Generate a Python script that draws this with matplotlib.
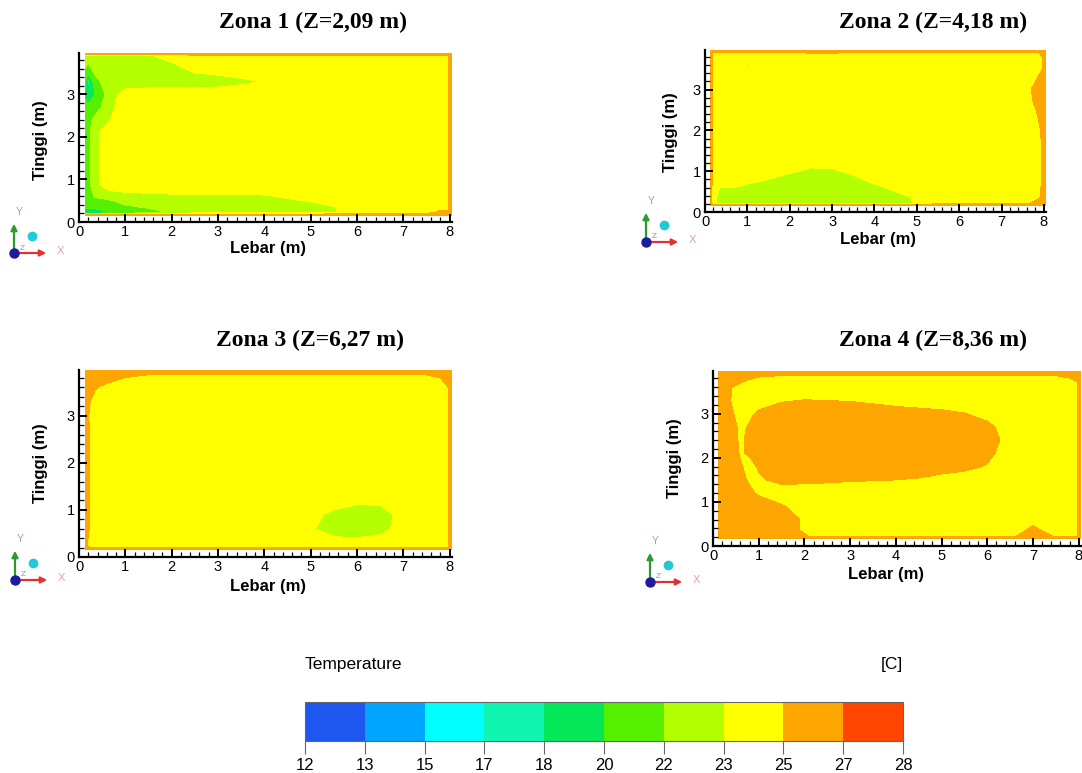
import matplotlib
matplotlib.use('Agg')
import numpy as np
import matplotlib.pyplot as plt
from matplotlib.ticker import MultipleLocator
from matplotlib.patches import FancyArrowPatch
from matplotlib.lines import Line2D

# temperature bands [C]
levels = [12, 13, 15, 17, 18, 20, 22, 23, 25, 27, 28]
colors = ['#1e56f0', '#00a5ff', '#00ffff', '#10f5b0', '#05e85a',
          '#55f000', '#b4ff00', '#ffff00', '#ffa500', '#ff4500']

# sample points of the section (m)
lebar = [0.13, 0.19, 0.35, 0.6, 0.8, 1.0, 1.5, 2.0, 2.5, 3.0, 3.5, 4.0,
         4.5, 5.0, 5.5, 6.0, 6.5, 7.0, 7.5, 7.8, 7.97, 8.03]
tinggi = [3.96, 3.9, 3.6, 3.3, 3.0, 2.7, 2.4, 2.1, 1.8, 1.5, 1.2, 0.9,
          0.6, 0.35, 0.22, 0.16]   # top -> bottom

zona1 = [
    [26.9, 26.9, 26.9, 26.9, 26.9, 26.9, 26.9, 26.9, 26.9, 26.9, 26.9, 26.9, 26.9, 26.9, 26.9, 26.9, 26.9, 26.9, 26.9, 26.9, 26.9, 26.9],
    [22.5, 22.4, 22.5, 22.6, 22.6, 22.7, 22.9, 23.3, 24.0, 24.2, 24.3, 24.4, 24.5, 24.6, 24.7, 24.8, 24.8, 24.7, 24.6, 24.6, 24.7, 26.9],
    [22.0, 21.6, 22.4, 22.6, 22.6, 22.6, 22.6, 22.7, 23.2, 23.3, 23.6, 23.9, 24.0, 24.0, 24.0, 24.0, 24.0, 24.0, 24.0, 24.1, 24.5, 26.9],
    [21.0, 16.8, 21.6, 22.5, 22.6, 22.6, 22.6, 22.6, 22.6, 22.7, 22.8, 23.05, 23.6, 24.0, 24.0, 24.0, 24.0, 24.0, 24.0, 24.1, 24.5, 26.9],
    [19.5, 18.2, 20.0, 22.4, 22.9, 23.3, 23.4, 23.4, 23.4, 23.4, 23.6, 23.9, 24.0, 24.0, 24.0, 24.0, 24.0, 24.0, 24.0, 24.1, 24.5, 26.9],
    [20.8, 20.6, 21.5, 22.5, 23.1, 23.4, 23.8, 24.0, 24.0, 24.0, 24.0, 24.0, 24.0, 24.0, 24.0, 24.0, 24.0, 24.0, 24.0, 24.1, 24.5, 26.9],
    [21.4, 21.6, 22.3, 22.8, 23.3, 23.6, 23.9, 24.0, 24.0, 24.0, 24.0, 24.0, 24.0, 24.0, 24.0, 24.0, 24.0, 24.0, 24.0, 24.1, 24.5, 26.9],
    [21.5, 21.7, 22.7, 23.5, 23.8, 23.9, 24.0, 24.0, 24.0, 24.0, 24.0, 24.0, 24.0, 24.0, 24.0, 24.0, 24.0, 24.0, 24.0, 24.1, 24.5, 26.9],
    [21.5, 21.7, 22.7, 23.6, 23.8, 23.9, 24.0, 24.0, 24.0, 24.0, 24.0, 24.0, 24.0, 24.0, 24.0, 24.0, 24.0, 24.0, 24.0, 24.1, 24.5, 26.9],
    [21.5, 21.7, 22.7, 23.6, 23.8, 23.9, 24.0, 24.0, 24.0, 24.0, 24.0, 24.0, 24.0, 24.0, 24.0, 24.0, 24.0, 24.0, 24.0, 24.1, 24.5, 26.9],
    [21.5, 21.7, 22.7, 23.6, 23.8, 23.9, 24.0, 24.0, 24.0, 24.0, 24.0, 24.0, 24.0, 24.0, 24.0, 24.0, 24.0, 24.0, 24.0, 24.1, 24.5, 26.9],
    [21.5, 21.7, 22.7, 23.6, 23.8, 23.8, 23.9, 23.9, 23.9, 23.8, 23.8, 23.8, 23.9, 24.0, 24.0, 24.0, 24.0, 24.0, 24.0, 24.1, 24.5, 26.9],
    [21.3, 21.5, 22.1, 22.3, 22.5, 22.6, 22.7, 22.8, 22.85, 22.85, 22.85, 22.9, 23.1, 23.3, 23.7, 24.0, 24.0, 24.0, 24.0, 24.1, 24.5, 26.9],
    [20.5, 20.8, 21.0, 21.2, 21.5, 21.85, 22.1, 22.3, 22.4, 22.4, 22.5, 22.5, 22.6, 22.7, 22.95, 23.6, 24.0, 24.1, 24.2, 24.4, 24.5, 26.9],
    [18.5, 17.8, 17.9, 19.5, 20.3, 20.8, 21.6, 22.1, 22.4, 22.5, 22.5, 22.5, 22.6, 22.7, 22.9, 23.5, 24.0, 24.2, 24.4, 25.4, 25.2, 26.9],
    [26.9, 26.9, 26.9, 26.9, 26.9, 26.9, 26.9, 26.9, 26.9, 26.9, 26.9, 26.9, 26.9, 26.9, 26.9, 26.9, 26.9, 26.9, 26.9, 26.9, 26.9, 26.9],
]

zona2 = [
    [26.9, 26.9, 26.9, 26.9, 26.9, 26.9, 26.9, 26.9, 26.9, 26.9, 26.9, 26.9, 26.9, 26.9, 26.9, 26.9, 26.9, 26.9, 26.9, 26.9, 26.9, 26.9],
    [26.9, 24.6, 24.6, 24.6, 24.6, 24.6, 24.6, 24.7, 25.1, 25.1, 24.8, 24.6, 24.6, 24.6, 24.6, 24.6, 24.6, 24.6, 24.6, 24.7, 25.2, 26.9],
    [26.9, 24.3, 24.1, 24.0, 24.0, 22.8, 24.0, 24.0, 24.0, 24.0, 24.0, 24.0, 24.0, 24.0, 24.0, 24.0, 24.0, 24.0, 24.1, 24.3, 24.8, 26.9],
    [26.9, 24.2, 24.0, 24.0, 24.0, 24.0, 24.0, 24.0, 24.0, 24.0, 24.0, 24.0, 24.0, 24.0, 24.0, 24.0, 24.0, 24.0, 24.1, 24.8, 25.5, 26.9],
    [26.9, 24.2, 24.0, 24.0, 24.0, 24.0, 24.0, 24.0, 24.0, 24.0, 24.0, 24.0, 24.0, 24.0, 24.0, 24.0, 24.0, 24.0, 24.2, 25.4, 26.0, 26.9],
    [26.9, 24.2, 24.0, 24.0, 24.0, 24.0, 24.0, 24.0, 24.0, 24.0, 24.0, 24.0, 24.0, 24.0, 24.0, 24.0, 24.0, 24.0, 24.1, 25.2, 25.9, 26.9],
    [26.9, 24.2, 24.0, 24.0, 24.0, 24.0, 24.0, 24.0, 24.0, 24.0, 24.0, 24.0, 24.0, 24.0, 24.0, 24.0, 24.0, 24.0, 24.1, 24.8, 25.6, 26.9],
    [26.9, 24.2, 24.0, 24.0, 24.0, 24.0, 24.0, 24.0, 24.0, 24.0, 24.0, 24.0, 24.0, 24.0, 24.0, 24.0, 24.0, 24.0, 24.0, 24.5, 25.3, 26.9],
    [26.9, 24.2, 24.0, 24.0, 24.0, 24.0, 24.0, 24.0, 24.0, 24.0, 24.0, 24.0, 24.0, 24.0, 24.0, 24.0, 24.0, 24.0, 24.0, 24.3, 25.2, 26.9],
    [26.9, 24.2, 24.0, 24.0, 24.0, 24.0, 24.0, 24.0, 24.0, 24.0, 24.0, 24.0, 24.0, 24.0, 24.0, 24.0, 24.0, 24.0, 24.0, 24.3, 25.2, 26.9],
    [26.9, 24.1, 24.0, 24.0, 24.0, 24.0, 24.0, 23.6, 23.2, 23.2, 23.7, 24.0, 24.0, 24.0, 24.0, 24.0, 24.0, 24.0, 24.0, 24.3, 25.2, 26.9],
    [26.9, 24.1, 23.8, 23.7, 23.6, 23.5, 23.2, 22.9, 22.7, 22.75, 23.0, 23.5, 23.8, 24.0, 24.0, 24.0, 24.0, 24.0, 24.0, 24.3, 25.2, 26.9],
    [26.9, 23.6, 23.0, 23.0, 22.95, 22.8, 22.6, 22.5, 22.4, 22.4, 22.6, 22.8, 23.2, 23.6, 24.0, 24.0, 24.0, 24.0, 24.0, 24.3, 25.2, 26.9],
    [26.9, 23.5, 22.5, 22.4, 22.4, 22.4, 22.4, 22.4, 22.4, 22.4, 22.4, 22.5, 22.7, 23.1, 23.8, 24.0, 24.0, 24.0, 24.0, 24.4, 25.3, 26.9],
    [26.9, 23.4, 22.6, 22.6, 22.6, 22.6, 22.6, 22.6, 22.6, 22.6, 22.6, 22.6, 22.6, 23.1, 23.9, 24.1, 24.1, 24.2, 24.3, 25.5, 26.0, 26.9],
    [26.9, 26.9, 26.9, 26.9, 26.9, 26.9, 26.9, 26.9, 26.9, 26.9, 26.9, 26.9, 26.9, 26.9, 26.9, 26.9, 26.9, 26.9, 26.9, 26.9, 26.9, 26.9],
]

zona3 = [
    [26.9, 26.9, 26.9, 26.9, 26.9, 26.9, 26.9, 26.9, 26.9, 26.9, 26.9, 26.9, 26.9, 26.9, 26.9, 26.9, 26.9, 26.9, 26.9, 26.9, 26.9, 26.9],
    [26.9, 26.8, 26.5, 26.0, 25.6, 25.3, 25.1, 25.1, 25.1, 25.1, 25.1, 25.1, 25.1, 25.1, 25.1, 25.1, 25.1, 25.1, 25.1, 25.3, 25.6, 26.9],
    [26.9, 26.3, 25.1, 24.6, 24.4, 24.3, 24.1, 24.0, 24.0, 24.0, 24.0, 24.0, 24.0, 24.0, 24.0, 24.0, 24.0, 24.0, 24.1, 24.4, 25.0, 26.9],
    [26.9, 25.2, 24.6, 24.2, 24.1, 24.0, 24.0, 24.0, 24.0, 24.0, 24.0, 24.0, 24.0, 24.0, 24.0, 24.0, 24.0, 24.0, 24.0, 24.1, 24.6, 26.9],
    [26.9, 25.1, 24.3, 24.0, 24.0, 24.0, 24.0, 24.0, 24.0, 24.0, 24.0, 24.0, 24.0, 24.0, 24.0, 24.0, 24.0, 24.0, 24.0, 24.1, 24.5, 26.9],
    [26.9, 25.2, 24.2, 24.0, 24.0, 24.0, 24.0, 24.0, 24.0, 24.0, 24.0, 24.0, 24.0, 24.0, 24.0, 24.0, 24.0, 24.0, 24.0, 24.1, 24.5, 26.9],
    [26.9, 25.2, 24.2, 24.0, 24.0, 24.0, 24.0, 24.0, 24.0, 24.0, 24.0, 24.0, 24.0, 24.0, 24.0, 24.0, 24.0, 24.0, 24.0, 24.1, 24.5, 26.9],
    [26.9, 25.2, 24.2, 24.0, 24.0, 24.0, 24.0, 24.0, 24.0, 24.0, 24.0, 24.0, 24.0, 24.0, 24.0, 24.0, 24.0, 24.0, 24.0, 24.1, 24.5, 26.9],
    [26.9, 25.2, 24.2, 24.0, 24.0, 24.0, 24.0, 24.0, 24.0, 24.0, 24.0, 24.0, 24.0, 24.0, 24.0, 24.0, 24.0, 24.0, 24.0, 24.1, 24.5, 26.9],
    [26.9, 25.2, 24.2, 24.0, 24.0, 24.0, 24.0, 24.0, 24.0, 24.0, 24.0, 24.0, 24.0, 24.0, 24.0, 24.0, 24.0, 24.0, 24.0, 24.1, 24.5, 26.9],
    [26.9, 25.2, 24.2, 24.0, 24.0, 24.0, 24.0, 24.0, 24.0, 24.0, 24.0, 24.0, 24.0, 24.0, 23.8, 23.4, 23.3, 23.7, 24.0, 24.1, 24.5, 26.9],
    [26.9, 25.2, 24.2, 24.0, 24.0, 24.0, 24.0, 24.0, 24.0, 24.0, 24.0, 24.0, 24.0, 23.5, 22.6, 22.1, 22.4, 23.5, 24.0, 24.1, 24.5, 26.9],
    [26.9, 25.2, 24.2, 24.0, 24.0, 24.0, 24.0, 24.0, 24.0, 24.0, 24.0, 24.0, 24.0, 23.2, 22.2, 22.0, 22.5, 23.6, 24.0, 24.1, 24.5, 26.9],
    [26.9, 25.0, 24.2, 24.0, 24.0, 24.0, 24.0, 24.0, 24.0, 24.0, 24.0, 24.0, 24.0, 23.8, 23.4, 23.3, 23.5, 23.9, 24.0, 24.1, 24.5, 26.9],
    [26.9, 24.8, 24.4, 24.3, 24.2, 24.2, 24.2, 24.2, 24.2, 24.2, 24.2, 24.2, 24.2, 24.2, 24.2, 24.2, 24.2, 24.2, 24.2, 24.3, 24.5, 26.9],
    [26.9, 26.9, 26.9, 26.9, 26.9, 26.9, 26.9, 26.9, 26.9, 26.9, 26.9, 26.9, 26.9, 26.9, 26.9, 26.9, 26.9, 26.9, 26.9, 26.9, 26.9, 26.9],
]

zona4 = [
    [26.9, 26.9, 26.9, 26.9, 26.9, 26.9, 26.9, 26.9, 26.9, 26.9, 26.9, 26.9, 26.9, 26.9, 26.9, 26.9, 26.9, 26.9, 26.9, 26.9, 26.9, 26.9],
    [26.9, 26.0, 25.8, 25.6, 25.4, 25.2, 25.1, 25.1, 25.1, 25.1, 25.1, 25.1, 25.1, 25.1, 25.1, 25.1, 25.1, 25.1, 25.1, 25.3, 25.6, 26.9],
    [26.9, 25.8, 25.1, 24.7, 24.4, 24.3, 24.2, 24.2, 24.2, 24.2, 24.2, 24.2, 24.2, 24.2, 24.2, 24.2, 24.2, 24.2, 24.2, 24.3, 24.6, 26.9],
    [26.9, 25.8, 25.1, 24.4, 24.4, 24.5, 24.9, 25.05, 25.0, 24.95, 24.8, 24.6, 24.4, 24.3, 24.2, 24.2, 24.2, 24.2, 24.2, 24.2, 24.5, 26.9],
    [26.9, 25.8, 25.3, 24.6, 24.8, 25.2, 25.6, 25.7, 25.7, 25.65, 25.6, 25.5, 25.45, 25.3, 25.05, 24.6, 24.3, 24.2, 24.2, 24.3, 24.5, 26.9],
    [26.9, 25.8, 25.5, 24.8, 25.1, 25.6, 25.8, 25.8, 25.8, 25.8, 25.8, 25.8, 25.8, 25.8, 25.7, 25.3, 24.4, 24.2, 24.2, 24.3, 24.5, 26.9],
    [26.9, 25.8, 25.7, 24.8, 25.3, 25.7, 25.8, 25.8, 25.8, 25.8, 25.8, 25.8, 25.8, 25.8, 25.8, 25.5, 24.6, 24.2, 24.2, 24.3, 24.5, 26.9],
    [26.9, 25.8, 25.7, 24.9, 25.1, 25.6, 25.8, 25.8, 25.8, 25.8, 25.8, 25.8, 25.8, 25.8, 25.7, 25.3, 24.4, 24.2, 24.2, 24.3, 24.5, 26.9],
    [26.9, 25.8, 25.6, 25.1, 24.7, 25.1, 25.6, 25.6, 25.6, 25.55, 25.5, 25.5, 25.6, 25.5, 25.3, 24.9, 24.3, 24.2, 24.2, 24.3, 24.5, 26.9],
    [26.9, 25.8, 25.6, 25.2, 24.9, 24.85, 25.3, 25.3, 25.2, 25.1, 25.05, 25.0, 24.9, 24.6, 24.4, 24.2, 24.2, 24.2, 24.2, 24.3, 24.5, 26.9],
    [26.9, 25.8, 25.7, 25.4, 25.15, 24.9, 24.4, 24.3, 24.3, 24.3, 24.3, 24.2, 24.2, 24.2, 24.2, 24.2, 24.2, 24.2, 24.2, 24.3, 24.5, 26.9],
    [26.9, 25.8, 25.8, 25.6, 25.5, 25.4, 25.1, 24.5, 24.2, 24.2, 24.2, 24.2, 24.2, 24.2, 24.2, 24.2, 24.2, 24.2, 24.2, 24.3, 24.5, 26.9],
    [26.9, 25.8, 25.8, 25.7, 25.65, 25.6, 25.4, 24.9, 24.3, 24.2, 24.2, 24.2, 24.2, 24.2, 24.2, 24.2, 24.2, 24.6, 24.3, 24.3, 24.5, 26.9],
    [26.9, 25.8, 25.8, 25.8, 25.8, 25.7, 25.4, 24.9, 24.3, 24.2, 24.2, 24.2, 24.2, 24.2, 24.2, 24.2, 24.3, 25.35, 24.4, 24.3, 24.5, 26.9],
    [26.9, 25.8, 25.8, 25.8, 25.8, 25.8, 25.7, 25.1, 24.4, 24.4, 24.4, 24.4, 24.4, 24.4, 24.4, 24.4, 24.8, 25.6, 24.9, 24.6, 24.6, 26.9],
    [26.9, 26.9, 26.9, 26.9, 26.9, 26.9, 26.9, 26.9, 26.9, 26.9, 26.9, 26.9, 26.9, 26.9, 26.9, 26.9, 26.9, 26.9, 26.9, 26.9, 26.9, 26.9],
]

zones = [zona1, zona2, zona3, zona4]
titles = ['Zona 1 (Z=2,09 m)', 'Zona 2 (Z=4,18 m)',
          'Zona 3 (Z=6,27 m)', 'Zona 4 (Z=8,36 m)']

W, H = 1082, 773
SANS = 'Liberation Sans'
SERIF = 'Liberation Serif'

def fx(px):
    return px / W

def fy(py):
    return 1 - py / H

# layout, in pixels of the reference picture
boxes = [(79, 53, 452, 222), (705, 50, 1046, 212),
         (79, 370, 452, 557), (713, 371, 1081, 546)]   # left, top, right, bottom
title_xy = [(313, 22), (933, 22), (310, 340), (933, 340)]
ylab_xy = [(40, 140), (670, 132), (40, 463), (675, 458)]
xlab_xy = [(268, 249), (878, 240), (268, 586), (886, 575)]
triad_xy = [(14, 253), (646, 242), (15, 580), (650, 582)]

fig = plt.figure(figsize=(W / 100, H / 100), dpi=100)

X, Y = np.meshgrid(lebar, tinggi)


def triad(ox, oy):
    # small orientation icon (x red, y green)
    fig.add_artist(FancyArrowPatch((fx(ox), fy(oy)), (fx(ox), fy(oy - 32)),
                                   transform=fig.transFigure, arrowstyle='-|>',
                                   mutation_scale=9, color='#2e9a2e', lw=1.6))
    fig.add_artist(FancyArrowPatch((fx(ox), fy(oy)), (fx(ox + 35), fy(oy)),
                                   transform=fig.transFigure, arrowstyle='-|>',
                                   mutation_scale=9, color='#e03030', lw=1.6))
    fig.add_artist(Line2D([fx(ox)], [fy(oy)], marker='o', ms=6.5, color='#1c1c9c',
                          transform=fig.transFigure))
    fig.add_artist(Line2D([fx(ox + 18)], [fy(oy - 17)], marker='o', ms=6,
                          color='#20c8d8', transform=fig.transFigure))
    fig.text(fx(ox + 2), fy(oy - 41), 'Y', fontsize=7.5, color='#8fb08f',
             ha='left', va='center', family=SANS)
    fig.text(fx(ox + 43), fy(oy - 2), 'X', fontsize=8, color='#e8a0a0',
             ha='left', va='center', family=SANS)
    fig.text(fx(ox + 8), fy(oy - 5), 'Z', fontsize=6, color='#9090b0',
             ha='center', va='center', family=SANS)


cs = None
for i, T in enumerate(zones):
    l, t, r, b = boxes[i]
    ax = fig.add_axes([fx(l), fy(b), (r - l) / W, (b - t) / H])
    cs = ax.contourf(X, Y, np.array(T), levels=levels, colors=colors)
    ax.set_xlim(0, 8.05)
    ax.set_ylim(0, 3.97)
    for s in ['top', 'right']:
        ax.spines[s].set_visible(False)
    for s in ['left', 'bottom']:
        ax.spines[s].set_linewidth(1.6)
    ax.xaxis.set_major_locator(MultipleLocator(1))
    ax.xaxis.set_minor_locator(MultipleLocator(0.2))
    ax.set_yticks([0, 1, 2, 3])
    ax.yaxis.set_minor_locator(MultipleLocator(0.2))
    ax.tick_params(which='major', direction='in', length=6, width=1.4,
                   labelsize=10.5)
    ax.tick_params(axis='x', which='major', pad=2.5)
    ax.tick_params(axis='y', which='major', pad=3)
    ax.tick_params(which='minor', direction='in', length=3.5, width=0.9)
    for lab in ax.get_xticklabels() + ax.get_yticklabels():
        lab.set_family(SANS)

    fig.text(fx(title_xy[i][0]), fy(title_xy[i][1]), titles[i], ha='center',
             va='center', fontsize=17, fontweight='bold', family=SERIF)
    fig.text(fx(ylab_xy[i][0]), fy(ylab_xy[i][1]), 'Tinggi (m)', rotation=90,
             ha='center', va='center', fontsize=12, fontweight='bold', family=SANS)
    fig.text(fx(xlab_xy[i][0]), fy(xlab_xy[i][1]), 'Lebar (m)', ha='center',
             va='center', fontsize=12, fontweight='bold', family=SANS)
    triad(*triad_xy[i])

# colour legend
cax = fig.add_axes([fx(305), fy(741), (903 - 305) / W, (741 - 702) / H])
cb = fig.colorbar(cs, cax=cax, orientation='horizontal', ticks=levels)
cb.ax.minorticks_off()
cb.ax.tick_params(direction='out', length=9, width=0.8, color='#666666',
                  labelsize=12, pad=3)
cb.ax.set_xticklabels([str(v) for v in levels], family=SANS)
cb.outline.set_linewidth(0.8)
cb.outline.set_edgecolor('#666666')
fig.text(fx(305), fy(664), 'Temperature', ha='left', va='center',
         fontsize=12.5, family=SANS)
fig.text(fx(903), fy(664), '[C]', ha='right', va='center',
         fontsize=12.5, family=SANS)

fig.savefig('out.png', dpi=100)
